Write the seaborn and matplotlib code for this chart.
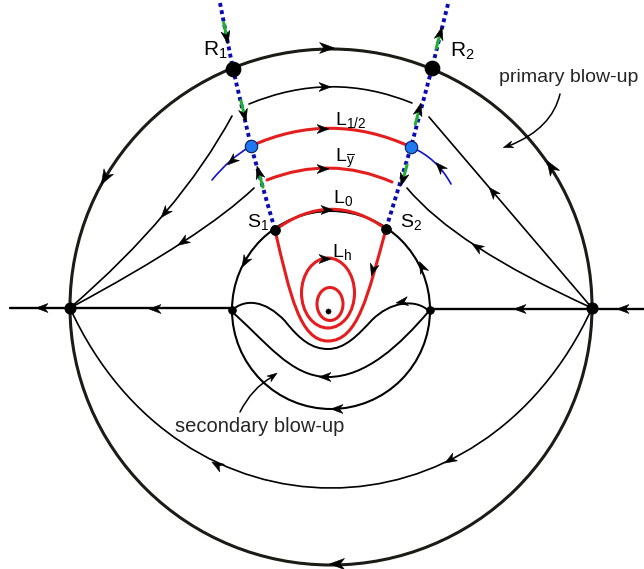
import numpy as np
import matplotlib.pyplot as plt
import seaborn as sns
from matplotlib.path import Path
from matplotlib.patches import PathPatch, Ellipse, Circle, Polygon

# everything is in pixel coordinates of the reference picture (y grows downward)

# circles
big_center = (331, 307)
big_size = (522, 516)
small_center = (331, 310)
small_radius = 99

# equilibria
node_x, node_y = [70, 592], [308, 308]
r_x, r_y = [233, 432], [69, 68]
s_x, s_y = [275, 386], [230, 229]
inner_x, inner_y = [232, 430], [310, 310]
blue_x, blue_y = [251, 411], [146, 147]
focus_x, focus_y = [328], [311]

# straight separatrices on the horizontal axis
axis_x = [10, 70, 232]
axis_x_right = [430, 592, 644]
axis_y = 309

# dotted blue lines through R, blue point and S
dot_left_x = [220, 233, 251, 275]
dot_left_y = [3, 69, 146, 230]
dot_right_x = [448, 432, 411, 386]
dot_right_y = [4, 68, 147, 229]

# quadratic curves: start, control, end
upper_arc = [(249, 104), (331, 70), (412, 103)]
red_half = [(251, 146), (331, 110), (411, 147)]
red_ybar = [(267, 180), (330, 155), (392, 182)]
red_zero = [(275, 230), (331, 189), (386, 229)]
left_fan = [[(232, 116), (179, 214), (70, 308)],
            [(254, 188), (204, 236), (70, 308)]]
right_fan = [[(429, 117), (476, 172), (592, 308)],
             [(407, 188), (455, 246), (592, 308)]]
blue_left = [(251, 146), (230, 158), (212, 180)]
blue_right = [(411, 147), (437, 158), (451, 184)]

# cubic curves: start, c1, c2, end (chained)
lower_arc = [(70, 308), (180, 548), (482, 548), (592, 308)]
red_outer = [(275, 230), (290, 295), (300, 341), (328, 341),
             (358, 341), (368, 295), (386, 229)]
wave_upper = [(231, 311), (245, 298), (265, 300), (285, 321),
              (300, 340), (312, 349), (328, 349),
              (345, 349), (358, 335), (372, 320),
              (390, 302), (415, 298), (429, 311)]
wave_lower = [(231, 311), (265, 340), (290, 377), (328, 377),
              (366, 377), (400, 345), (429, 311)]

# red closed orbits (center, width, height)
orbits = [((328, 293), 53, 70), ((330, 304), 26, 33)]

# arrowheads: x, y, dx, dy
arrows_big = [(327, 48, 1, 0), (105, 178, -130, 226), (551, 167, -141, -222),
              (337, 564, -1, 0)]
arrows = [(325, 87, 1, 0), (323, 129, 1, 0), (323, 169, 1, 0), (327, 210, 1, 0),
          (325, 259, 1, 0), (373, 270, -0.28, 1),
          (42, 308, -1, 0), (155, 309, -1, 0), (520, 309, -1, 0), (623, 309, -1, 0),
          (165, 213, -162, 192), (183, 242, -184, 120),
          (493, 192, -163, -191), (477, 247, -185, -120),
          (245, 262, -48, 86), (422, 267, -43, -91), (337, 409, -1, 0),
          (402, 302, -1, 0.15), (325, 377, -1, 0),
          (217, 465, -1, -0.6), (450, 460, -1, 0.6),
          (232, 161, -39, 34), (440, 167, -1, -1.1)]
# green arrows on the dotted lines: tip x, tip y, dx, dy
green_arrows = [(228, 44, 0.2, 1), (246, 122, 0.24, 1), (257, 166, -0.28, -1),
                (442, 27, 0.27, -1), (421, 103, 0.27, -1), (401, 186, -0.29, 1)]

# labels: text, x, y (left, baseline), size
labels = [(r'$\mathregular{R_1}$', 203, 56, 15), (r'$\mathregular{R_2}$', 450, 57, 15),
          (r'$\mathregular{L_{1/2}}$', 335, 125, 14),
          (r'$\mathregular{L_{\overline{y}}}$', 335, 163, 14),
          (r'$\mathregular{L_0}$', 333, 203, 14), (r'$\mathregular{L_h}$', 332, 257, 14),
          (r'$\mathregular{S_1}$', 247, 227, 14), (r'$\mathregular{S_2}$', 400, 227, 14)]


def quad(ax, pts, color='black', lw=1.2, z=2):
    path = Path(pts, [Path.MOVETO, Path.CURVE3, Path.CURVE3])
    ax.add_patch(PathPatch(path, fc='none', ec=color, lw=lw, zorder=z, capstyle='round'))


def cubic(ax, pts, color='black', lw=1.2, z=2):
    codes = [Path.MOVETO] + [Path.CURVE4] * (len(pts) - 1)
    ax.add_patch(PathPatch(Path(pts, codes), fc='none', ec=color, lw=lw, zorder=z,
                           capstyle='round'))


def head(ax, x, y, dx, dy, length=12, width=4.5, color='black', z=6):
    u = np.array([dx, dy], float)
    u /= np.hypot(*u)
    n = np.array([-u[1], u[0]])
    c = np.array([x, y], float)
    tip = c + u * length / 2
    back = c - u * length / 2
    notch = c - u * (length / 2 - length * 0.3)
    ax.add_patch(Polygon([tip, back + n * width, notch, back - n * width],
                         closed=True, fc=color, ec=color, lw=0.4, zorder=z))


sns.set_theme(style='white')
plt.rcParams['font.family'] = ['Liberation Sans', 'DejaVu Sans']
plt.rcParams['mathtext.fontset'] = 'custom'
plt.rcParams['mathtext.rm'] = 'Liberation Sans'
plt.rcParams['mathtext.it'] = 'Liberation Sans'
plt.rcParams['mathtext.bf'] = 'Liberation Sans:bold'

fig = plt.figure(figsize=(6.44, 5.69), dpi=100)
ax = fig.add_axes([0, 0, 1, 1])
ax.set_xlim(0, 644)
ax.set_ylim(569, 0)
ax.set_aspect('equal')
ax.axis('off')

# circles
ax.add_patch(Ellipse(big_center, *big_size, fc='none', ec='#1c1c16', lw=2.2, zorder=2))
ax.add_patch(Circle(small_center, small_radius, fc='none', ec='black', lw=1.5, zorder=2))

# axis
ax.plot(axis_x, [axis_y - 1] * 3, color='black', lw=1.7, zorder=2)
ax.plot(axis_x_right, [axis_y] * 3, color='black', lw=1.7, zorder=2)

# black trajectories
quad(ax, upper_arc)
for c in left_fan + right_fan:
    quad(ax, c)
cubic(ax, lower_arc)
cubic(ax, wave_upper, lw=1.4)
cubic(ax, wave_lower, lw=1.4)

# red trajectories
red = '#e41e1e'
for c in [red_half, red_ybar, red_zero]:
    quad(ax, c, color=red, lw=2.2, z=3)
cubic(ax, red_outer, color=red, lw=2.2, z=3)
for (cx, cy), w, h in orbits:
    ax.add_patch(Ellipse((cx, cy), w, h, fc='none', ec=red, lw=2.2, zorder=3))

# blue trajectories
quad(ax, blue_left, color='#1010d0', lw=1.2, z=3)
quad(ax, blue_right, color='#1010d0', lw=1.2, z=3)

# dotted lines
for xs, ys in [(dot_left_x, dot_left_y), (dot_right_x, dot_right_y)]:
    ax.plot(xs, ys, color='#0a0ab8', lw=2.8, linestyle=(0, (1, 0.9)),
            dash_capstyle='butt', zorder=4)

# green arrows on the dotted lines
for tx, ty, dx, dy in green_arrows:
    u = np.array([dx, dy]) / np.hypot(dx, dy)
    a = np.array([tx, ty]) - u * 22
    b = np.array([tx, ty]) - u * 7
    ax.plot([a[0], b[0]], [a[1], b[1]], color='#1fb032', lw=2.2, zorder=5)
    c = np.array([tx, ty]) - u * 6.5
    head(ax, c[0], c[1], dx, dy, length=13, width=4.5)

# arrowheads
for x, y, dx, dy in arrows_big:
    head(ax, x, y, dx, dy, length=15, width=5.5)
for x, y, dx, dy in arrows:
    head(ax, x, y, dx, dy)

# equilibria
sns.scatterplot(x=node_x, y=node_y, s=65, color='black', edgecolor='black', zorder=7, ax=ax)
sns.scatterplot(x=r_x, y=r_y, s=110, color='black', edgecolor='black', zorder=7, ax=ax)
sns.scatterplot(x=s_x, y=s_y, s=50, color='black', edgecolor='black', zorder=7, ax=ax)
sns.scatterplot(x=inner_x, y=inner_y, s=32, color='black', edgecolor='black', zorder=7, ax=ax)
sns.scatterplot(x=focus_x, y=focus_y, s=14, color='black', edgecolor='black', zorder=7, ax=ax)
sns.scatterplot(x=blue_x, y=blue_y, s=80, color='#1e78f0', edgecolor='#0a1a60',
                linewidth=0.8, zorder=7, ax=ax)

# labels
for txt, x, y, size in labels:
    ax.text(x, y, txt, fontsize=size, ha='left', va='baseline', color='black', zorder=8)
ax.text(499, 82, 'primary blow-up', fontsize=14, ha='left', va='baseline')
ax.text(175, 432, 'secondary blow-up', fontsize=14.5, ha='left', va='baseline')

# pointer arrows for the text
quad(ax, [(560, 94), (552, 128), (511, 145)], lw=1.1)
head(ax, 508, 146, -47, 16, length=10, width=3.5)
quad(ax, [(240, 412), (252, 388), (272, 377)], lw=1.1)
head(ax, 273, 376, 35, -25, length=10, width=3.5)

fig.savefig('out.png', dpi=100)
